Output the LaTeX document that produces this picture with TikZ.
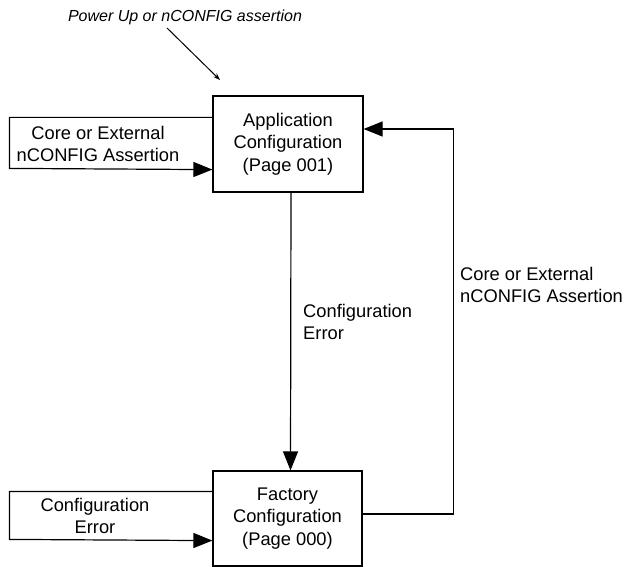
\documentclass[tikz,border=0pt]{standalone}
\usepackage{fontspec}
\setmainfont{Liberation Sans}
\usetikzlibrary{calc, arrows.meta}

\begin{document}
\begin{tikzpicture}[x=1pt,y=-1pt,
        state/.style={draw,line width=1.2pt,align=center,inner sep=0pt,font=\fontsize{18.3}{22.5}\selectfont},
        lbl/.style={align=center,inner sep=0pt,font=\fontsize{18.3}{22.5}\selectfont},
        flow/.style={line width=1.2pt,-{Triangle[length=19pt,width=15pt]}}]
            \useasboundingbox (0,0) rectangle (629,567);
            \node[state,minimum width=150pt,minimum height=96pt] (app) at (288,144) {Application\\Configuration\\(Page 001)};
            \node[state,minimum width=149pt,minimum height=95pt] (fac) at (287.5,518.5) {Factory\\Configuration\\(Page 000)};
            \node[inner sep=0pt,font=\fontsize{16}{19}\selectfont\itshape] (pwr) at (185,17) {Power Up or nCONFIG assertion};
            \node[lbl] (coreL) at (98,144) {Core or External\\nCONFIG Assertion};
            \node[lbl] (errL) at (95,516) {Configuration\\Error};
            \node[lbl,align=left,anchor=west] (errM) at (303,322) {Configuration\\Error};
            \node[lbl,align=left,anchor=west] (coreR) at (460,285) {Core or External\\nCONFIG Assertion};
            \coordinate (pwrA) at (167,28);
            \coordinate (pwrB) at (220,80);
            \draw[line width=1pt,-{Stealth[length=7pt,width=5pt]}] (pwrA)--(pwrB);
            \draw[flow] ([yshift=-22pt]app.north west)--++(-203,0)--++(0,51)--([yshift=23pt]app.south west);
            \draw[flow] ([xshift=3pt]app.south)--([xshift=3pt]fac.north);
            \draw[flow] ([yshift=4.5pt]fac.east)--++(91,0)|-([yshift=15pt]app.east);
            \draw[flow] ([yshift=-21pt]fac.north west)--++(-203,0)--++(0,48)--([yshift=26pt]fac.south west);
        \end{tikzpicture}
\end{document}
